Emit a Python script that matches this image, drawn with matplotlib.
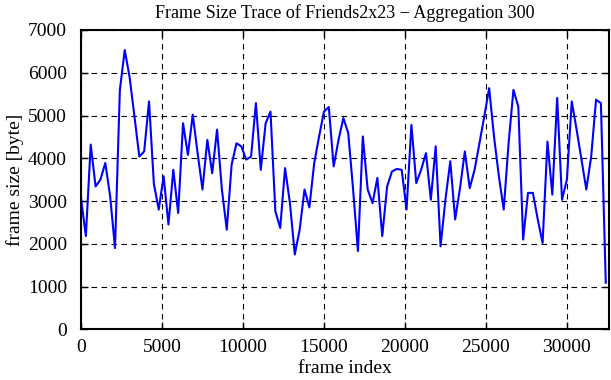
import numpy as np
import matplotlib
matplotlib.use("Agg")
import matplotlib.pyplot as plt

# Frame size trace, one value per aggregation window of 300 frames
step = 300
frame_size = [
    3070, 2180, 4320, 3340, 3500, 3890, 3110, 1900, 5600, 6530,
    5900, 4980, 4040, 4160, 5330, 3400, 2800, 3580, 2450, 3730,
    2720, 4820, 4080, 5020, 4120, 3270, 4430, 3650, 4670, 3270,
    2330, 3850, 4350, 4280, 3970, 4040, 5290, 3730, 4820, 5090,
    2760, 2370, 3770, 2950, 1750, 2330, 3270, 2850, 3890, 4510,
    5090, 5200, 3810, 4430, 4940, 4590, 3270, 1830, 4510, 3270,
    2950, 3540, 2180, 3340, 3690, 3750, 3730, 2800, 4780, 3420,
    3730, 4120, 3030, 4280, 1940, 3030, 3930, 2570, 3300, 4160,
    3300, 3730, 4350, 4980, 5640, 4510, 3580, 2800, 4350, 5600,
    5210, 2100, 3190, 3190, 2570, 2020, 4390, 3150, 5410, 3030,
    3500, 5330, 4670, 3970, 3270, 4040, 5370, 5290, 1090,
]
frame_index = np.arange(len(frame_size)) * step

x_ticks = [0, 5000, 10000, 15000, 20000, 25000, 30000]
y_ticks = [0, 1000, 2000, 3000, 4000, 5000, 6000, 7000]

plt.rcParams['font.family'] = ['Liberation Serif', 'DejaVu Serif']

fig = plt.figure(figsize=(6.11, 3.80), dpi=100)
ax = fig.add_axes([81 / 611, 1 - 329.3 / 380, 528 / 611, 299.3 / 380])

ax.plot(frame_index, frame_size, color='#0000ff', lw=1.5)

ax.set_xlim(0, 32600)
ax.set_ylim(0, 7000)
ax.set_xticks(x_ticks)
ax.set_yticks(y_ticks)
ax.grid(True, color='black', linestyle=(0, (5, 4)), linewidth=0.8)
ax.tick_params(direction='in', length=5, width=1, top=True, right=True,
               labelsize=14, pad=7)
ax.tick_params(axis='y', pad=10)
for s in ax.spines.values():
    s.set_linewidth(1.5)

ax.set_xlabel('frame index', fontsize=14, labelpad=3)
ax.set_ylabel('frame size [byte]', fontsize=14, labelpad=3)
ax.set_title('Frame Size Trace of Friends2x23 \u2212 Aggregation 300',
             fontsize=13, pad=9)

fig.savefig('out.png', dpi=100)
